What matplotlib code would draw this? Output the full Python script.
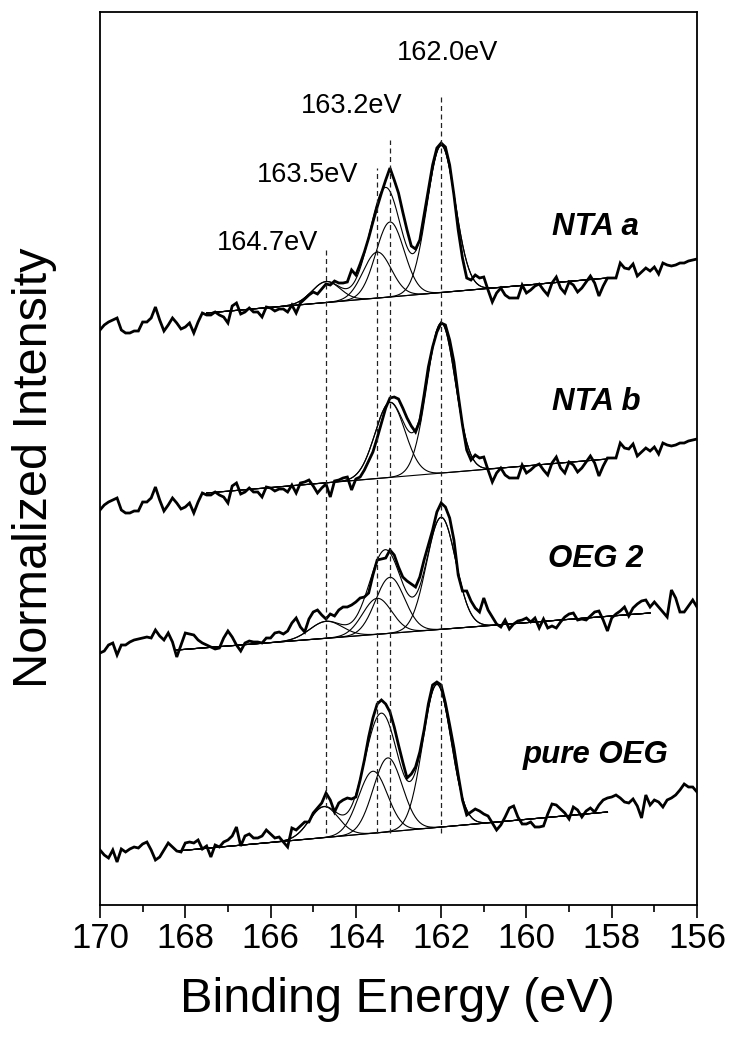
import numpy as np
import matplotlib.pyplot as plt
from matplotlib.ticker import MultipleLocator

plt.rcParams['font.family'] = ['Liberation Sans', 'DejaVu Sans']

# binding energy grid of the scans (eV), 0.1 eV steps from 170 to 156
energy = np.round(np.arange(170.0, 155.95, -0.1), 1)

# raw S 2p spectra, normalized intensity (a.u., already stacked)
nta_a = [575, 580, 583, 585, 587, 575, 572, 572, 574, 574,
         583, 583, 587, 598, 585, 574, 580, 587, 582, 576,
         578, 582, 572, 583, 592, 590, 590, 593, 590, 588,
         582, 599, 602, 591, 593, 597, 593, 593, 588, 598,
         597, 594, 596, 596, 593, 600, 592, 602, 606, 610,
         613, 611, 616, 621, 620, 624, 622, 622, 623, 635,
         630, 641, 653, 667, 683, 698, 712, 725, 737, 725,
         712, 693, 675, 659, 656, 665, 690, 715, 740, 757,
         762, 758, 740, 710, 675, 647, 627, 625, 630, 627,
         628, 615, 603, 612, 617, 610, 607, 607, 607, 620,
         612, 615, 619, 621, 615, 610, 622, 628, 617, 612,
         623, 620, 613, 617, 623, 629, 622, 609, 619, 627,
         627, 627, 642, 637, 636, 641, 629, 633, 637, 634,
         638, 631, 642, 640, 639, 640, 642, 642, 644, 645,
         646]
nta_b = [395, 400, 403, 405, 407, 395, 392, 392, 394, 394,
         403, 403, 407, 418, 405, 394, 400, 407, 402, 396,
         398, 402, 392, 403, 412, 410, 410, 413, 410, 408,
         402, 419, 422, 411, 413, 417, 413, 413, 408, 418,
         417, 414, 416, 416, 413, 420, 412, 422, 423, 425,
         419, 412, 417, 421, 408, 424, 425, 427, 428, 415,
         426, 428, 435, 444, 453, 467, 482, 497, 507, 508,
         506, 497, 487, 479, 473, 484, 510, 538, 558, 573,
         582, 580, 565, 543, 510, 480, 455, 445, 450, 447,
         448, 435, 423, 432, 437, 430, 427, 427, 427, 440,
         432, 435, 439, 441, 435, 430, 442, 448, 437, 432,
         443, 440, 433, 437, 443, 449, 442, 429, 439, 447,
         447, 447, 462, 457, 456, 461, 449, 453, 457, 454,
         458, 451, 462, 460, 459, 460, 462, 462, 464, 465,
         466]
oeg_2 = [252, 254, 260, 262, 250, 260, 260, 263, 265, 266,
         267, 268, 267, 275, 269, 265, 272, 263, 248, 260,
         272, 271, 270, 265, 262, 260, 258, 256, 257, 267,
         274, 268, 260, 254, 262, 264, 263, 263, 262, 267,
         267, 272, 273, 271, 274, 282, 287, 278, 273, 286,
         293, 295, 290, 286, 291, 289, 295, 298, 298, 300,
         303, 307, 308, 312, 330, 345, 346, 347, 355, 350,
         338, 328, 324, 321, 318, 328, 345, 360, 375, 393,
         402, 398, 387, 365, 330, 314, 314, 304, 297, 293,
         307, 295, 288, 281, 278, 285, 276, 281, 284, 285,
         287, 283, 287, 277, 286, 277, 279, 277, 283, 288,
         291, 292, 285, 286, 285, 289, 293, 294, 285, 274,
         287, 291, 294, 298, 289, 297, 301, 304, 305, 298,
         303, 298, 293, 288, 315, 307, 293, 293, 299, 305,
         298]
pure_oeg = [55, 50, 47, 55, 43, 56, 53, 56, 58, 57,
            61, 63, 55, 45, 48, 55, 62, 58, 54, 53,
            62, 63, 62, 65, 56, 59, 48, 60, 58, 63,
            65, 69, 78, 59, 69, 71, 67, 67, 69, 75,
            71, 67, 68, 63, 58, 77, 75, 79, 83, 83,
            92, 97, 102, 112, 105, 93, 102, 105, 107, 106,
            108, 125, 145, 168, 187, 201, 205, 201, 193, 178,
            160, 143, 127, 131, 138, 153, 175, 201, 220, 223,
            220, 202, 180, 157, 130, 105, 90, 93, 96, 94,
            91, 89, 82, 75, 80, 88, 97, 99, 88, 81,
            81, 83, 78, 78, 79, 91, 101, 100, 96, 92,
            86, 98, 95, 88, 94, 97, 93, 100, 105, 107,
            108, 110, 107, 103, 102, 106, 99, 87, 110, 100,
            105, 103, 98, 105, 107, 110, 115, 121, 118, 118,
            113]

# linear background: (start eV, start intensity, end eV, end intensity)
nta_a_base = (167.5, 592, 158.1, 627)
nta_b_base = (167.5, 412, 158.1, 446)
oeg_2_base = (168.2, 255, 157.1, 292)
pure_oeg_base = (168.2, 54, 158.1, 93)

# fitted components: (centre eV, height above background, sigma eV)
nta_a_peaks = [(162.0, 147, 0.33), (163.2, 75, 0.33), (163.5, 46, 0.33), (164.7, 21, 0.33)]
nta_b_peaks = [(162.0, 150, 0.33), (163.2, 75, 0.35)]
oeg_2_peaks = [(162.0, 112, 0.34), (163.2, 56, 0.34), (163.5, 36, 0.34), (164.7, 17, 0.38)]
pure_oeg_peaks = [(162.1, 143, 0.33), (163.25, 74, 0.34), (163.6, 62, 0.34), (164.75, 31, 0.34)]

names = ['NTA a', 'NTA b', 'OEG 2', 'pure OEG']
name_y = [670, 495, 338, 142]

# reference positions of the components
marks = [164.7, 163.5, 163.2, 162.0]
mark_labels = ['164.7eV', '163.5eV', '163.2eV', '162.0eV']
mark_top = [658, 737, 765, 810]
mark_bottom = 72
mark_text_x = [166.08, 165.12, 164.09, 161.86]
mark_text_y = [662, 730, 799, 852]

spectra = [nta_a, nta_b, oeg_2, pure_oeg]
bases = [nta_a_base, nta_b_base, oeg_2_base, pure_oeg_base]
peaks = [nta_a_peaks, nta_b_peaks, oeg_2_peaks, pure_oeg_peaks]

fig = plt.figure(figsize=(7.33, 10.45), dpi=100)
ax = fig.add_axes([100 / 733, 1 - 905 / 1045, 597 / 733, 893 / 1045])

for raw, base, comps in zip(spectra, bases, peaks):
    e0, i0, e1, i1 = base
    e = np.linspace(e0, e1, 400)
    bg = i0 + (i1 - i0) * (e - e0) / (e1 - e0)
    total = bg.copy()
    for c, h, s in comps:
        g = h * np.exp(-(e - c) ** 2 / (2 * s ** 2))
        total += g
        ax.plot(e, bg + g, color='black', lw=0.8)
    ax.plot(e, bg, color='black', lw=0.8)
    ax.plot(e, total, color='black', lw=0.8)
    ax.plot(energy, raw, color='black', lw=2.0, solid_joinstyle='miter')

for x, top, lab, tx, ty in zip(marks, mark_top, mark_labels, mark_text_x, mark_text_y):
    ax.plot([x, x], [mark_bottom, top], color='#222222', lw=0.9, dashes=(4, 2.8))
    ax.text(tx, ty, lab, fontsize=19.5, ha='center', va='center')

for name, y in zip(names, name_y):
    ax.text(158.37, y, name, fontsize=22.5, fontweight='bold', fontstyle='italic',
            ha='center', va='baseline')

ax.set_xlim(170, 156)
ax.set_ylim(0, 893)
ax.set_yticks([])
ax.xaxis.set_major_locator(MultipleLocator(2))
ax.xaxis.set_minor_locator(MultipleLocator(1))
ax.tick_params(axis='x', which='major', direction='out', length=9.5, width=1.2,
               labelsize=25, pad=3)
ax.tick_params(axis='x', which='minor', direction='out', length=5, width=1.2)
for sp in ax.spines.values():
    sp.set_linewidth(1.3)

ax.set_xlabel('Binding Energy (eV)', fontsize=35, va='center')
ax.xaxis.set_label_coords(0.499, -0.106)
ax.set_ylabel('Normalized Intensity', fontsize=35, va='center')
ax.yaxis.set_label_coords(-0.109, 0.49)

fig.savefig('out.png', dpi=100)
